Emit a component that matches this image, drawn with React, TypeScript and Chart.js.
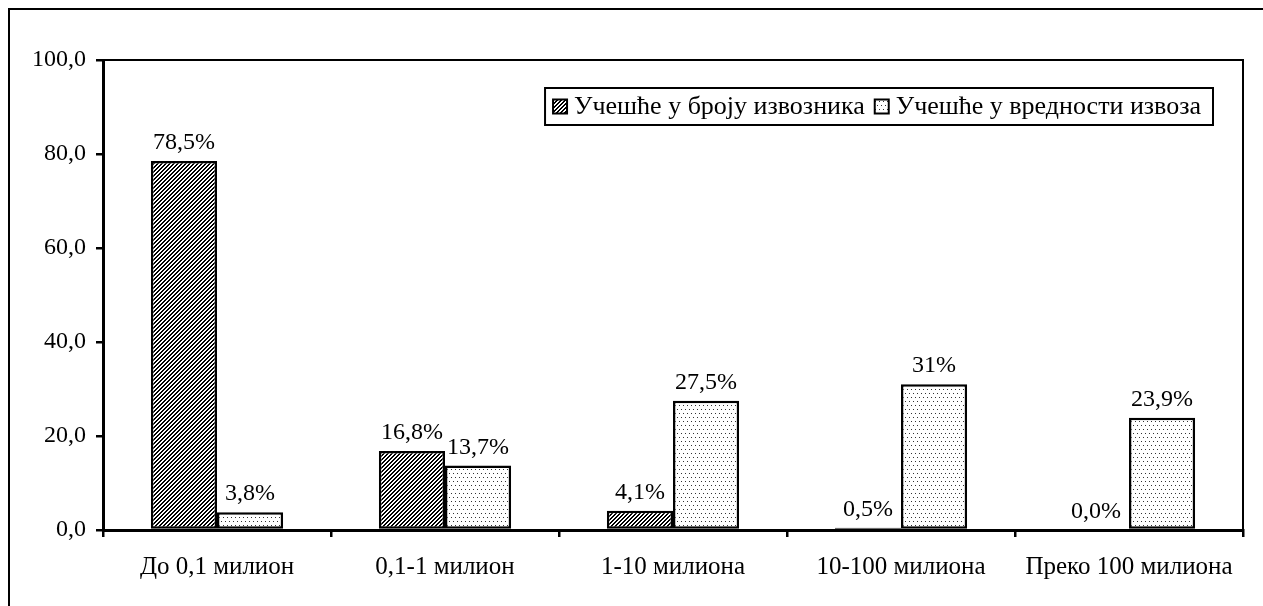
import React, { useEffect, useRef } from "react";
import { Chart, registerables } from "chart.js";

Chart.register(...registerables);

const categories = ["До 0,1 милион", "0,1-1 милион", "1-10 милиона", "10-100 милиона", "Преко 100 милиона"];
const exporterShare = [78.5, 16.8, 4.1, 0.5, 0.0];
const valueShare = [3.8, 13.7, 27.5, 31, 23.9];
const exporterLabels = ["78,5%", "16,8%", "4,1%", "0,5%", "0,0%"];
const valueLabels = ["3,8%", "13,7%", "27,5%", "31%", "23,9%"];
const seriesNames = ["Учешће у броју извозника", "Учешће у вредности извоза"];
const yTickLabels = ["0,0", "20,0", "40,0", "60,0", "80,0", "100,0"];

const FONT = "'Liberation Serif', 'Times New Roman', serif";

function makeHatch(): CanvasPattern | string {
  const c = document.createElement("canvas");
  c.width = 8;
  c.height = 8;
  const g = c.getContext("2d");
  if (!g) return "#444";
  g.fillStyle = "#fff";
  g.fillRect(0, 0, 8, 8);
  g.fillStyle = "#000";
  for (let x = 0; x < 8; x++) {
    for (let y = 0; y < 8; y++) {
      const m = (x + y) % 4;
      if (m === 0 || m === 1) g.fillRect(x, y, 1, 1);
    }
  }
  const p = g.createPattern(c, "repeat");
  return p || "#444";
}

function makeDots(): CanvasPattern | string {
  const c = document.createElement("canvas");
  c.width = 8;
  c.height = 8;
  const g = c.getContext("2d");
  if (!g) return "#eee";
  g.fillStyle = "#fff";
  g.fillRect(0, 0, 8, 8);
  g.fillStyle = "#333";
  [[1, 1], [5, 1], [3, 5], [7, 5]].forEach(([x, y]) => g.fillRect(x, y, 1, 1));
  const p = g.createPattern(c, "repeat");
  return p || "#eee";
}

export default function App() {
  const ref = useRef<HTMLCanvasElement | null>(null);

  useEffect(() => {
    if (!ref.current) return;
    const hatch = makeHatch();
    const dots = makeDots();
    const fills = [hatch, dots];
    const labelSets = [exporterLabels, valueLabels];

    const decor = {
      id: "decor",
      beforeDraw(chart: any) {
        const ctx = chart.ctx;
        ctx.save();
        ctx.fillStyle = "#fff";
        ctx.fillRect(0, 0, chart.width, chart.height);
        ctx.strokeStyle = "#000";
        ctx.lineWidth = 2;
        ctx.strokeRect(9, 9, chart.width + 20, chart.height + 20);
        ctx.restore();
      },
      afterDatasetsDraw(chart: any) {
        const ctx = chart.ctx;
        const ca = chart.chartArea;
        ctx.save();
        // plot frame
        ctx.strokeStyle = "#000";
        ctx.lineWidth = 2;
        ctx.beginPath();
        ctx.moveTo(ca.left, ca.top);
        ctx.lineTo(ca.right, ca.top);
        ctx.lineTo(ca.right, ca.bottom);
        ctx.stroke();
        // data labels
        ctx.fillStyle = "#000";
        ctx.font = `24px ${FONT}`;
        ctx.textAlign = "center";
        ctx.textBaseline = "alphabetic";
        chart.data.datasets.forEach((ds: any, di: number) => {
          const meta = chart.getDatasetMeta(di);
          meta.data.forEach((bar: any, i: number) => {
            ctx.fillText(labelSets[di][i], bar.x, bar.y - 12);
          });
        });
        // legend
        ctx.font = `26px ${FONT}`;
        const right = ca.right - 30;
        const ly = ca.top + 28;
        const h = 37;
        const sw = 14;
        const w1 = ctx.measureText(seriesNames[0]).width;
        const w2 = ctx.measureText(seriesNames[1]).width;
        const totalW = 8 + sw + 7 + w1 + 10 + sw + 7 + w2 + 12;
        const left = right - totalW;
        ctx.lineWidth = 2;
        ctx.fillStyle = "#fff";
        ctx.fillRect(left, ly, totalW, h);
        ctx.strokeStyle = "#000";
        ctx.strokeRect(left, ly, totalW, h);
        let x = left + 8;
        const cy = ly + h / 2;
        ctx.textAlign = "left";
        ctx.textBaseline = "middle";
        for (let k = 0; k < 2; k++) {
          ctx.fillStyle = fills[k] as any;
          ctx.fillRect(x, cy - sw / 2, sw, sw);
          ctx.lineWidth = 2;
          ctx.strokeRect(x, cy - sw / 2, sw, sw);
          x += sw + 7;
          ctx.fillStyle = "#000";
          ctx.fillText(seriesNames[k], x, cy + 1);
          x += (k === 0 ? w1 : w2) + 10;
        }
        ctx.restore();
      },
    };

    const chart = new Chart(ref.current, {
      type: "bar",
      data: {
        labels: categories,
        datasets: [
          {
            label: seriesNames[0],
            data: exporterShare,
            backgroundColor: hatch as any,
            borderColor: "#000",
            borderWidth: 2.5,
            borderSkipped: false,
          },
          {
            label: seriesNames[1],
            data: valueShare,
            backgroundColor: dots as any,
            borderColor: "#000",
            borderWidth: 2.5,
            borderSkipped: false,
          },
        ],
      },
      options: {
        responsive: false,
        animation: false,
        devicePixelRatio: 1,
        layout: { padding: { left: 0, top: 60, right: 20, bottom: 0 } },
        datasets: { bar: { categoryPercentage: 0.58, barPercentage: 1 } },
        plugins: { legend: { display: false }, tooltip: { enabled: false } },
        scales: {
          x: {
            grid: {
              display: true,
              drawOnChartArea: false,
              drawTicks: true,
              tickLength: 7,
              color: "#000",
              lineWidth: 2.5,
              offset: true,
            },
            border: { display: true, color: "#000", width: 3 },
            ticks: {
              color: "#000",
              font: { family: FONT, size: 25 },
              padding: 15,
              maxRotation: 0,
              autoSkip: false,
            },
            afterFit: (s: any) => {
              s.height = 76;
            },
          },
          y: {
            min: 0,
            max: 100,
            grid: {
              display: true,
              drawOnChartArea: false,
              drawTicks: true,
              tickLength: 7,
              color: "#000",
              lineWidth: 2.5,
            },
            border: { display: true, color: "#000", width: 3 },
            ticks: {
              stepSize: 20,
              color: "#000",
              font: { family: FONT, size: 24 },
              padding: 10,
              callback: (_v: any, i: number) => yTickLabels[i],
            },
            afterFit: (s: any) => {
              s.width = 103;
            },
          },
        },
      },
      plugins: [decor],
    });
    return () => chart.destroy();
  }, []);

  return (
    <div style={{ position: "absolute", left: 0, top: 0, width: 1263, height: 606, overflow: "hidden", background: "#fff" }}>
      <canvas ref={ref} width={1263} height={606} style={{ display: "block" }} />
    </div>
  );
}
